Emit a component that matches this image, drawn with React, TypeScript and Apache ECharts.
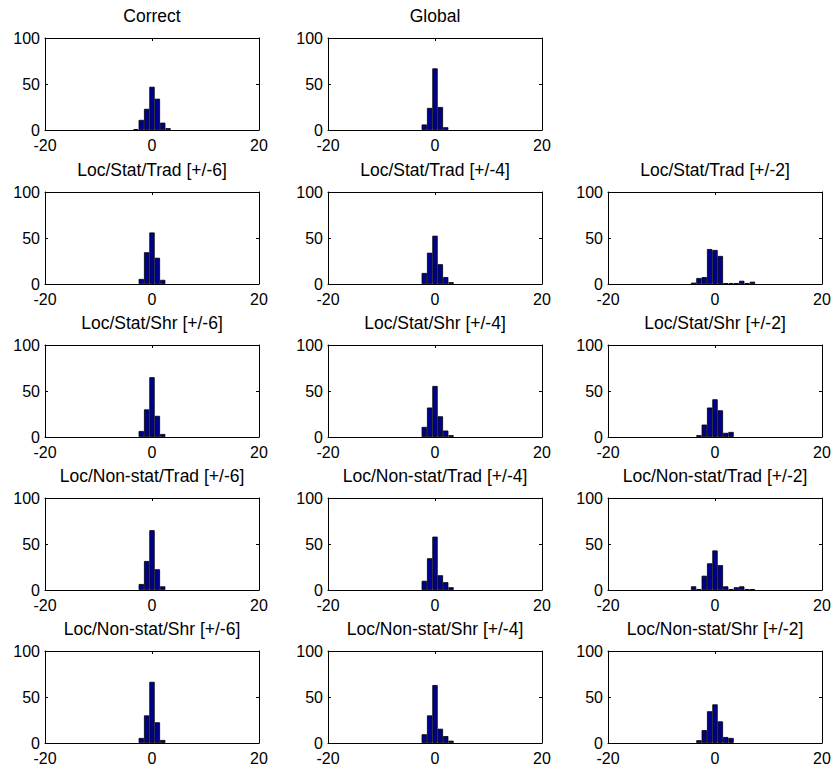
import React, { useEffect, useRef } from "react";
import * as echarts from "echarts";

// Histogram bin centres (unit-width bins) shared by all panels
const BINS = [-4, -3, -2, -1, 0, 1, 2, 3, 4, 5, 6, 7];

// Counts per bin, one array per panel
const correct = [0, 1, 11, 23, 47, 34, 8, 2, 0, 0, 0, 0];
const globalC = [0, 0, 6, 24, 67, 25, 3, 0, 0, 0, 0, 0];
const locStatTrad6 = [0, 0, 5.5, 34.5, 56, 28.5, 4.5, 0, 0, 0, 0, 0];
const locStatTrad4 = [0, 0, 12, 34, 52.5, 21.5, 7.5, 2, 0, 0, 0, 0];
const locStatTrad2 = [1.5, 6.5, 7.5, 38, 37, 30.5, 1, 1, 1, 3.5, 1, 2.5];
const locStatShr6 = [0, 0, 6.5, 30, 65, 23, 3.3, 0, 0, 0, 0, 0];
const locStatShr4 = [0, 0, 11, 32, 55.5, 22.5, 7, 2, 0, 0, 0, 0];
const locStatShr2 = [0, 2, 13.5, 32, 41, 29, 4.5, 5.5, 0, 0, 0, 0];
const locNonTrad6 = [0, 0, 6.5, 31.5, 65, 22.5, 4, 0, 0, 0, 0, 0];
const locNonTrad4 = [0, 0, 10, 34.5, 58, 16, 8.5, 3, 0, 0, 0, 0];
const locNonTrad2 = [4, 1, 15.5, 29, 43, 27, 4, 1, 3, 4, 1, 1];
const locNonShr6 = [0, 0, 5.5, 30, 66.5, 22.5, 3.3, 0, 0, 0, 0, 0];
const locNonShr4 = [0, 0, 9.5, 30, 63, 15.5, 7.5, 2.5, 0, 0, 0, 0];
const locNonShr2 = [0, 3, 14, 34.5, 42, 23.5, 6.5, 5.5, 0, 0, 0, 0];

const TITLES = [
  "Correct", "Global",
  "Loc/Stat/Trad [+/-6]", "Loc/Stat/Trad [+/-4]", "Loc/Stat/Trad [+/-2]",
  "Loc/Stat/Shr [+/-6]", "Loc/Stat/Shr [+/-4]", "Loc/Stat/Shr [+/-2]",
  "Loc/Non-stat/Trad [+/-6]", "Loc/Non-stat/Trad [+/-4]", "Loc/Non-stat/Trad [+/-2]",
  "Loc/Non-stat/Shr [+/-6]", "Loc/Non-stat/Shr [+/-4]", "Loc/Non-stat/Shr [+/-2]",
];
const COUNTS = [
  correct, globalC,
  locStatTrad6, locStatTrad4, locStatTrad2,
  locStatShr6, locStatShr4, locStatShr2,
  locNonTrad6, locNonTrad4, locNonTrad2,
  locNonShr6, locNonShr4, locNonShr2,
];
// grid cell (row, col) per panel
const CELLS = [
  [0, 0], [0, 1],
  [1, 0], [1, 1], [1, 2],
  [2, 0], [2, 1], [2, 2],
  [3, 0], [3, 1], [3, 2],
  [4, 0], [4, 1], [4, 2],
];

const X_TICKS = { min: -20, max: 20, interval: 20 };
const Y_TICKS = { min: 0, max: 100, interval: 50 };

// layout
const COL_LEFT = [45, 328, 608];
const ROW_TOP = [38, 192, 345, 498, 651];
const BOX_W = 214;
const BOX_H = 92;

const FONT = "'Liberation Sans', Arial, Helvetica, sans-serif";
const TICK_FONT = { fontFamily: FONT, fontSize: 16, color: "#000" };

export default function App() {
  const ref = useRef<HTMLDivElement>(null);
  useEffect(() => {
    if (!ref.current) return;
    const chart = echarts.init(ref.current, null, { renderer: "svg" });
    const n = TITLES.length;
    const grids: any[] = [];
    const xAxes: any[] = [];
    const yAxes: any[] = [];
    const series: any[] = [];
    const titles: any[] = [];
    const line = { show: true, lineStyle: { color: "#000", width: 1 } };
    const tick = { show: true, inside: true, length: 3, lineStyle: { color: "#000", width: 1 } };
    for (let i = 0; i < n; i++) {
      const [r, c] = CELLS[i];
      const left = COL_LEFT[c];
      const top = ROW_TOP[r];
      grids.push({ left, top, width: BOX_W, height: BOX_H, show: true, backgroundColor: "#fff", borderWidth: 0 });
      titles.push({
        text: TITLES[i],
        left: left + BOX_W / 2,
        top: top - 32,
        textAlign: "center",
        padding: 0,
        textStyle: { fontFamily: FONT, fontSize: 17.5, fontWeight: "normal", color: "#000", lineHeight: 20 },
      });
    }
    // bottom / left axes with labels
    for (let i = 0; i < n; i++) {
      xAxes.push({
        type: "value", gridIndex: i, position: "bottom", ...X_TICKS,
        axisLine: { ...line, onZero: false }, axisTick: tick, splitLine: { show: false },
        axisLabel: { show: true, margin: 7, showMinLabel: true, showMaxLabel: true, ...TICK_FONT },
      });
      yAxes.push({
        type: "value", gridIndex: i, position: "left", ...Y_TICKS,
        axisLine: { ...line, onZero: false }, axisTick: tick, splitLine: { show: false },
        axisLabel: {
          show: true, margin: 5, ...TICK_FONT,
          verticalAlign: "middle",
        },
      });
    }
    // top / right frame axes
    for (let i = 0; i < n; i++) {
      xAxes.push({
        type: "value", gridIndex: i, position: "top", ...X_TICKS,
        axisLine: { ...line, onZero: false }, axisTick: tick, splitLine: { show: false }, axisLabel: { show: false },
      });
      yAxes.push({
        type: "value", gridIndex: i, position: "right", ...Y_TICKS,
        axisLine: { ...line, onZero: false }, axisTick: tick, splitLine: { show: false }, axisLabel: { show: false },
      });
    }
    for (let i = 0; i < n; i++) {
      const counts = COUNTS[i];
      const data = BINS.map((b, k) => [b, counts[k]]).filter((d) => d[1] > 0);
      series.push({
        type: "bar",
        xAxisIndex: i,
        yAxisIndex: i,
        data,
        barWidth: BOX_W / 40,
        itemStyle: { color: "#00008f", borderColor: "#000", borderWidth: 0.8 },
        silent: true,
      });
    }
    chart.setOption({
      animation: false,
      backgroundColor: "#fff",
      title: titles,
      grid: grids,
      xAxis: xAxes,
      yAxis: yAxes,
      series,
    });
    return () => chart.dispose();
  }, []);
  return (
    <div
      ref={ref}
      style={{ position: "absolute", left: 0, top: 0, width: 835, height: 772, background: "#fff" }}
    />
  );
}
